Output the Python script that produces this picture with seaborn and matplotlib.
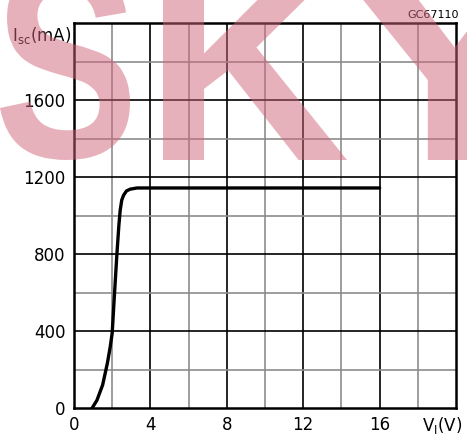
import matplotlib
matplotlib.use("Agg")
import matplotlib.pyplot as plt
import seaborn as sns
import pandas as pd
from matplotlib.textpath import TextPath
from matplotlib.patches import PathPatch
from matplotlib.font_manager import FontProperties
from matplotlib.transforms import Affine2D, IdentityTransform

# short-circuit current vs input voltage
v_in = [0.95, 1.2, 1.5, 1.75, 1.9, 2.0, 2.1, 2.25, 2.35, 2.42, 2.5, 2.6, 2.75, 2.95, 3.3, 5, 8, 12, 16]
i_sc = [0, 40, 120, 234, 320, 390, 560, 805, 950, 1028, 1080, 1106, 1128, 1137, 1143, 1143, 1143, 1143, 1143]

x_ticks = [0, 4, 8, 12, 16]
y_ticks = [0, 400, 800, 1200, 1600]

df = pd.DataFrame({"V": v_in, "I": i_sc})

sns.set_style("white")
plt.rcParams["font.family"] = ["DejaVu Sans"]
plt.rcParams["text.color"] = "black"

fig = plt.figure(figsize=(4.67, 4.37), dpi=100)
ax = fig.add_axes([74 / 467, 29 / 437, 382 / 467, 385 / 437])

# grid: black every major tick, gray halfway
for x in range(2, 20, 2):
    ax.axvline(x, color="black" if x % 4 == 0 else "#8c8c8c", lw=1.2, zorder=1)
for y in range(200, 2000, 200):
    ax.axhline(y, color="black" if y % 400 == 0 else "#8c8c8c", lw=1.2, zorder=1)

sns.lineplot(data=df, x="V", y="I", ax=ax, color="black", lw=2.4, zorder=3)

ax.set_xlim(0, 20)
ax.set_ylim(0, 2000)
ax.set_xticks(x_ticks)
ax.set_yticks(y_ticks)
ax.set_xticklabels([str(t) for t in x_ticks], fontsize=12)
ax.set_yticklabels([str(t) for t in y_ticks], fontsize=12)
ax.tick_params(length=0, pad=6, colors="black")
ax.set_xlabel("")
ax.set_ylabel("")
for s in ax.spines.values():
    s.set_color("black")
    s.set_linewidth(1.8)

fig.text(462 / 467, 1 - 425 / 437, r"V$_\mathregular{I}$(V)", fontsize=12, ha="right", va="center")
fig.text(71 / 467, 1 - 35 / 437, r"I$_\mathregular{sc}$(mA)", fontsize=12, ha="right", va="center")
fig.text(459 / 467, 1 - 15 / 437, "GC67110", fontsize=8, ha="right", va="center")

# pink watermark letters, drawn in pixel space
fp = FontProperties(family="Liberation Sans", weight="bold")
boxes = {"S": (0, 130), "K": (163, 347), "Y": (335, 575)}
top_px, bottom_px = 437 + 35, 437 - 160
for ch, (x0, x1) in boxes.items():
    tp = TextPath((0, 0), ch, size=1, prop=fp)
    ext = tp.get_extents()
    sx = (x1 - x0) / ext.width
    sy = (top_px - bottom_px) / ext.height
    tr = Affine2D().translate(-ext.x0, -ext.y0).scale(sx, sy).translate(x0, bottom_px)
    patch = PathPatch(tr.transform_path(tp), transform=IdentityTransform(),
                      facecolor="#d1657a", edgecolor="none", alpha=0.5, zorder=10)
    fig.add_artist(patch)

fig.savefig("out.png", dpi=100)
